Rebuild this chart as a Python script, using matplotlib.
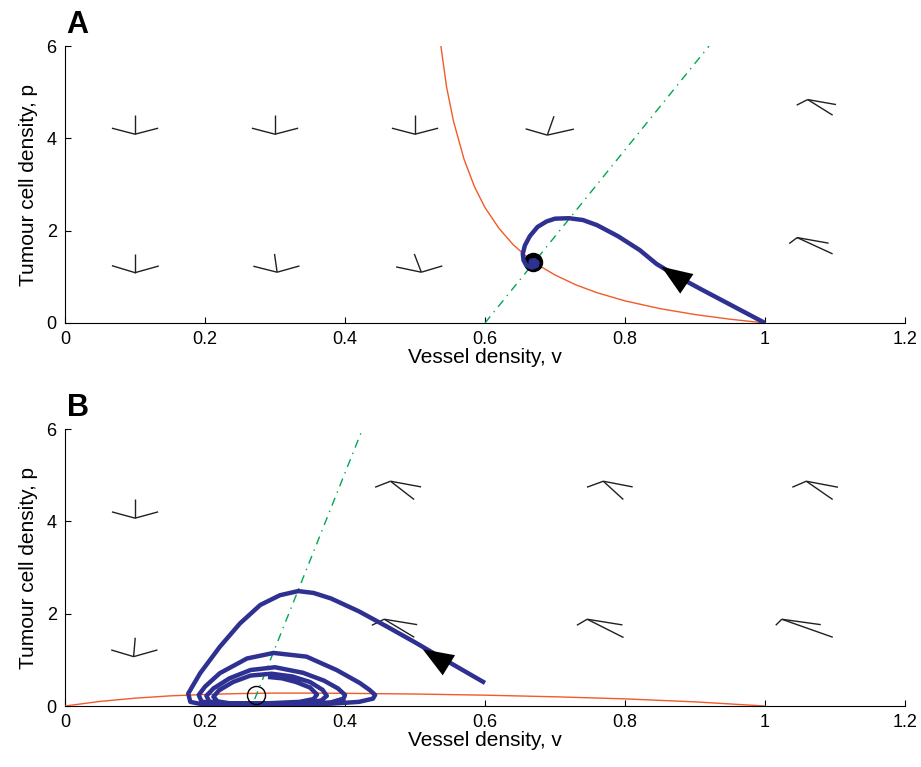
import matplotlib
matplotlib.use("Agg")
import matplotlib.pyplot as plt

plt.rcParams['font.family'] = ['Liberation Sans', 'DejaVu Sans']

# ---------------- panel A data ----------------
# red nullcline
redA_v = [0.537, 0.545, 0.555, 0.57, 0.585, 0.60, 0.62, 0.64, 0.66, 0.68,
          0.70, 0.73, 0.76, 0.80, 0.85, 0.90, 0.95, 1.0]
redA_p = [6.0, 5.12, 4.37, 3.55, 2.95, 2.50, 2.05, 1.70, 1.43, 1.22,
          1.04, 0.825, 0.656, 0.479, 0.311, 0.183, 0.082, 0.0]
# green nullcline
greenA_v = [0.6, 0.92]
greenA_p = [0.0, 6.0]
# trajectory
trajA_v = [1.0, 0.975, 0.95, 0.91, 0.871, 0.845, 0.821, 0.79, 0.76, 0.74, 0.72,
           0.70, 0.688, 0.675, 0.664, 0.657, 0.654, 0.655, 0.659, 0.667, 0.674,
           0.675, 0.671, 0.666, 0.665, 0.669, 0.671, 0.669]
trajA_p = [0.0, 0.2, 0.4, 0.72, 1.04, 1.28, 1.58, 1.88, 2.12, 2.23, 2.27,
           2.26, 2.2, 2.08, 1.88, 1.68, 1.5, 1.36, 1.25, 1.20, 1.24,
           1.31, 1.36, 1.35, 1.31, 1.29, 1.32, 1.33]
eqA = (0.669, 1.32)
arrowA_tip = (0.852, 1.22)
arrowA_tail = (0.893, 0.80)
# direction glyphs: vertex and three arm offsets
glyphA_v = [0.1, 0.3, 0.5, 0.689, 1.061, 0.1, 0.303, 0.509, 1.046]
glyphA_p = [4.09, 4.09, 4.09, 4.07, 4.84, 1.09, 1.10, 1.10, 1.85]
armsA = [
    [(0, 0.41), (-0.033, 0.13), (0.033, 0.13)],
    [(0, 0.41), (-0.033, 0.13), (0.033, 0.13)],
    [(0, 0.41), (-0.033, 0.13), (0.033, 0.13)],
    [(0.0096, 0.41), (-0.031, 0.136), (0.038, 0.13)],
    [(-0.0157, -0.121), (0.0404, -0.108), (0.0357, -0.338)],
    [(0, 0.405), (-0.033, 0.152), (0.034, 0.145)],
    [(-0.0037, 0.396), (-0.034, 0.13), (0.032, 0.136)],
    [(-0.010, 0.396), (-0.036, 0.115), (0.030, 0.136)],
    [(-0.0114, -0.13), (0.0449, -0.121), (0.0506, -0.353)],
]

# ---------------- panel B data ----------------
redB_v = [0.0, 0.05, 0.1, 0.15, 0.2, 0.25, 0.3, 0.35, 0.4, 0.5, 0.6, 0.7, 0.8, 0.9, 1.0]
redB_p = [0.0, 0.10, 0.17, 0.22, 0.25, 0.27, 0.28, 0.28, 0.275, 0.26, 0.235, 0.20, 0.155, 0.09, 0.0]
greenB_v = [0.271, 0.425]
greenB_p = [0.15, 6.0]
trajB_v = [0.6, 0.56, 0.536, 0.5, 0.46, 0.42, 0.38, 0.355, 0.333, 0.307, 0.279, 0.25,
           0.221, 0.193, 0.176, 0.179, 0.198,
           0.25, 0.32, 0.38, 0.42, 0.44, 0.443, 0.435, 0.421, 0.388, 0.345, 0.298,
           0.26, 0.221, 0.2, 0.191, 0.195, 0.215,
           0.28, 0.34, 0.38, 0.398, 0.4, 0.39, 0.37, 0.34, 0.3, 0.265, 0.235, 0.212,
           0.202, 0.206, 0.225,
           0.29, 0.34, 0.366, 0.374, 0.368, 0.35, 0.325, 0.295, 0.265, 0.24, 0.22,
           0.212, 0.218, 0.235,
           0.29, 0.335, 0.355, 0.36, 0.35, 0.33, 0.31, 0.29]
trajB_p = [0.5, 0.85, 1.06, 1.38, 1.72, 2.05, 2.33, 2.45, 2.49, 2.40, 2.19, 1.79,
           1.28, 0.71, 0.27, 0.09, 0.03,
           0.03, 0.03, 0.05, 0.09, 0.16, 0.24, 0.35, 0.5, 0.78, 1.07, 1.15,
           1.03, 0.71, 0.42, 0.24, 0.1, 0.04,
           0.03, 0.04, 0.08, 0.16, 0.24, 0.38, 0.55, 0.72, 0.84, 0.78, 0.6, 0.38,
           0.22, 0.1, 0.05,
           0.04, 0.06, 0.12, 0.22, 0.35, 0.52, 0.64, 0.70, 0.66, 0.52, 0.34,
           0.2, 0.1, 0.06,
           0.06, 0.09, 0.15, 0.25, 0.4, 0.52, 0.6, 0.63]
eqB = (0.273, 0.24)
arrowB_tip = (0.511, 1.23)
arrowB_tail = (0.553, 0.84)
glyphB_v = [0.1, 0.098, 0.465, 0.456, 0.769, 0.746, 1.059, 1.024]
glyphB_p = [4.07, 1.07, 4.87, 1.88, 4.87, 1.88, 4.87, 1.88]
armsB = [
    [(0, 0.405), (-0.033, 0.136), (0.033, 0.136)],
    [(0.0023, 0.41), (-0.032, 0.145), (0.034, 0.145)],
    [(-0.022, -0.13), (0.0437, -0.123), (0.0337, -0.396)],
    [(-0.0176, -0.13), (0.0471, -0.117), (0.0429, -0.39)],
    [(-0.0233, -0.13), (0.042, -0.123), (0.0286, -0.396)],
    [(-0.0147, -0.13), (0.0504, -0.123), (0.0519, -0.396)],
    [(-0.02, -0.13), (0.0453, -0.13), (0.0377, -0.396)],
    [(-0.0086, -0.13), (0.0557, -0.117), (0.0729, -0.39)],
]

xticks = [0, 0.2, 0.4, 0.6, 0.8, 1.0, 1.2]
xticklabels = ['0', '0.2', '0.4', '0.6', '0.8', '1', '1.2']
yticks = [0, 2, 4, 6]
yticklabels = ['0', '2', '4', '6']

BLUE = '#2e3192'
RED = '#f15a29'
GREEN = '#00a651'
GLYPH = '#231f20'

fig = plt.figure(figsize=(9.21, 7.67), dpi=100)
axA = fig.add_axes([0.0706, 0.5789, 0.912, 0.3611])
axB = fig.add_axes([0.0706, 0.0795, 0.912, 0.3611])


def draw_panel(ax, red_v, red_p, green_v, green_p, traj_v, traj_p, eq, filled,
               tip, tail, g_v, g_p, arms, letter):
    for gv, gp, arm in zip(g_v, g_p, arms):
        for dv, dp in arm:
            ax.plot([gv, gv + dv], [gp, gp + dp], color=GLYPH, lw=1.0,
                    solid_capstyle='butt', zorder=2)
    ax.plot(red_v, red_p, color=RED, lw=1.0, zorder=3)
    ax.plot(green_v, green_p, color=GREEN, lw=1.0, linestyle='-.',
            dashes=(6, 4, 1, 4), zorder=3)
    if filled:
        ax.plot(eq[0], eq[1], 'o', color='k', markersize=13, zorder=4)
    else:
        ax.plot(eq[0], eq[1], 'o', markerfacecolor='none', markeredgecolor='k',
                markersize=13, mew=1.0, zorder=6)
    ax.plot(traj_v, traj_p, color=BLUE, lw=3.2, solid_joinstyle='round',
            solid_capstyle='butt', zorder=5)
    ax.annotate('', xy=tip, xytext=tail,
                arrowprops=dict(arrowstyle='-|>,head_length=1.3,head_width=0.5',
                                color='k', lw=0, shrinkA=0, shrinkB=0,
                                mutation_scale=17),
                zorder=7)
    ax.set_xlim(0, 1.2)
    ax.set_ylim(0, 6)
    ax.set_xticks(xticks)
    ax.set_xticklabels(xticklabels)
    ax.set_yticks(yticks)
    ax.set_yticklabels(yticklabels)
    ax.tick_params(direction='in', labelsize=13, length=4, width=0.8, pad=6)
    for s in ['top', 'right']:
        ax.spines[s].set_visible(False)
    for s in ['left', 'bottom']:
        ax.spines[s].set_linewidth(0.8)
    ax.set_xlabel('Vessel density, v', fontsize=15, labelpad=0)
    ax.set_ylabel('Tumour cell density, p', fontsize=15, labelpad=6)
    ax.text(0.002, 1.022, letter, transform=ax.transAxes, fontsize=22,
            fontweight='bold', ha='left', va='bottom')


draw_panel(axA, redA_v, redA_p, greenA_v, greenA_p, trajA_v, trajA_p, eqA, True,
           arrowA_tip, arrowA_tail, glyphA_v, glyphA_p, armsA, 'A')
draw_panel(axB, redB_v, redB_p, greenB_v, greenB_p, trajB_v, trajB_p, eqB, False,
           arrowB_tip, arrowB_tail, glyphB_v, glyphB_p, armsB, 'B')

fig.savefig('out.png', dpi=100)
